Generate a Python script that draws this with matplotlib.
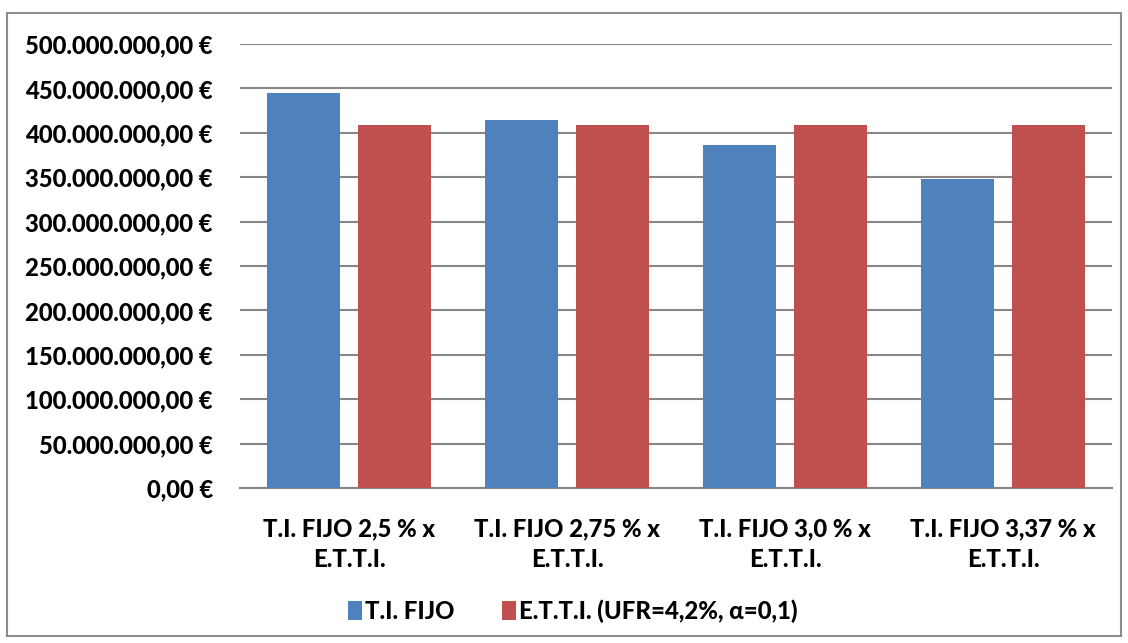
import matplotlib
matplotlib.use("Agg")
import matplotlib.pyplot as plt
import matplotlib.ticker as mticker
from matplotlib.patches import Rectangle
import numpy as np

# category labels and values (euros)
categories = ["T.I. FIJO 2,5 % x\nE.T.T.I.", "T.I. FIJO 2,75 % x\nE.T.T.I.",
              "T.I. FIJO 3,0 % x\nE.T.T.I.", "T.I. FIJO 3,37 % x\nE.T.T.I."]
ti_fijo = [444.8e6, 413.9e6, 385.7e6, 348.2e6]
etti = [409.0e6, 409.0e6, 409.0e6, 409.0e6]
series_names = ["T.I. FIJO", "E.T.T.I. (UFR=4,2%, α=0,1)"]

FS = 17.2
plt.rcParams['font.family'] = ['Lato', 'DejaVu Sans']
plt.rcParams['font.weight'] = 'black'

fig = plt.figure(figsize=(11.28, 6.43), dpi=100)
ax = fig.add_axes([0.2128, 0.241, 0.7730, 0.6906])

# outer chart border
fig.patches.append(Rectangle((7 / 1128, 1 - 636 / 643), 1114 / 1128, 623 / 643,
                             transform=fig.transFigure, fill=False,
                             edgecolor="#8c8c8c", linewidth=1.5))

x = np.arange(len(categories))
w = 0.335
gap = 0.08
ax.bar(x - (w + gap) / 2, ti_fijo, w, color="#4F81BD", label=series_names[0], zorder=3)
ax.bar(x + (w + gap) / 2, etti, w, color="#C0504D", label=series_names[1], zorder=3)

ax.set_xlim(-0.5, len(categories) - 0.5)
ax.set_ylim(0, 500e6)
ax.set_yticks(np.arange(0, 500e6 + 1, 50e6))


def euro(v, pos):
    s = f"{v:,.2f}".replace(",", "X").replace(".", ",").replace("X", ".")
    return s + " €"


ax.yaxis.set_major_formatter(mticker.FuncFormatter(euro))
ax.grid(axis="y", color="#868686", linewidth=1.5, zorder=0)
ax.set_xticks(x)
ax.set_xticklabels(categories, fontsize=FS, fontweight="black", linespacing=1.42)
ax.tick_params(axis="x", length=0, pad=21)
ax.tick_params(axis="y", length=0, pad=19.5, labelsize=FS)
for lab in ax.get_yticklabels():
    lab.set_fontweight("black")

for side in ["left", "right", "top"]:
    ax.spines[side].set_visible(False)
ax.spines["bottom"].set_color("#868686")
ax.spines["bottom"].set_linewidth(1.5)

fig.legend(loc="center", bbox_to_anchor=(0.508, 1 - 611 / 643), ncol=2, frameon=False,
           prop={"weight": "black", "size": FS}, handlelength=0.55, handleheight=0.8,
           handletextpad=0.15, columnspacing=2.0)

fig.savefig("out.png", dpi=100)
